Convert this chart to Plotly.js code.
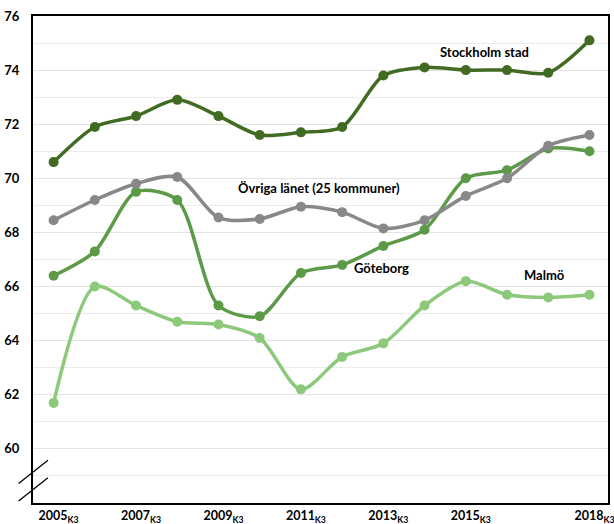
<!DOCTYPE html>
<html>
<head>
<meta charset="utf-8">
<script src="https://cdn.plot.ly/plotly-3.0.1.min.js"></script>
<style>html,body{margin:0;padding:0;background:#fff;}#chart{width:614px;height:524px;}</style>
</head>
<body>
<div id="chart"></div>
<script>
const years = ["2005","2006","2007","2008","2009","2010","2011","2012","2013","2014","2015","2016","2017","2018"];
const stockholm = [70.6, 71.9, 72.3, 72.9, 72.3, 71.6, 71.7, 71.9, 73.8, 74.1, 74.0, 74.0, 73.9, 75.1];
const ovriga    = [68.45, 69.2, 69.8, 70.05, 68.55, 68.5, 68.95, 68.75, 68.15, 68.45, 69.35, 70.0, 71.2, 71.6];
const goteborg  = [66.4, 67.3, 69.5, 69.2, 65.3, 64.9, 66.5, 66.8, 67.5, 68.1, 70.0, 70.3, 71.1, 71.0];
const malmo     = [61.7, 66.0, 65.3, 64.7, 64.6, 64.1, 62.2, 63.4, 63.9, 65.3, 66.2, 65.7, 65.6, 65.7];
const tickYears = ["2005","2007","2009","2011","2013","2015","2018"];
const yTicks = [60, 62, 64, 66, 68, 70, 72, 74, 76];
const seriesNames = ["Stockholm stad", "Övriga länet (25 kommuner)", "Göteborg", "Malmö"];

const xIdx = years.map((_, i) => i);
const tickVals = tickYears.map(y => years.indexOf(y));
const tickText = tickYears.map(y => y + "<sub>K3</sub>");

function series(vals, color, name) {
  return {
    x: xIdx, y: vals, name: name, type: "scatter", mode: "lines+markers",
    line: {color: color, width: 3.5, shape: "spline", smoothing: 0.8},
    marker: {color: color, size: 10},
    showlegend: false, hoverinfo: "skip"
  };
}

const data = [
  series(malmo, "#8cc97b", seriesNames[3]),
  series(goteborg, "#5c9a48", seriesNames[2]),
  series(ovriga, "#888888", seriesNames[1]),
  series(stockholm, "#416b22", seriesNames[0])
];

const font = {family: "Lato, 'Open Sans', sans-serif", size: 13, color: "#000"};
const annFont = {family: "Lato, 'Open Sans', sans-serif", size: 13, color: "#000"};

const layout = {
  width: 614, height: 524,
  margin: {l: 33, r: 6, t: 16, b: 21},
  paper_bgcolor: "#fff", plot_bgcolor: "#fff",
  font: font,
  xaxis: {
    range: [-0.5, 13.45],
    tickmode: "array", tickvals: tickVals, ticktext: tickText,
    showgrid: false, zeroline: false,
    showline: true, linecolor: "#000", linewidth: 2, mirror: true,
    ticks: "", ticklabelstandoff: 0, ticklabelshift: 5, ticklabeloverflow: "allow",
    tickfont: {family: font.family, size: 12.5, color: "#000", weight: "bold"}
  },
  yaxis: {
    range: [58, 76],
    tickmode: "array", tickvals: yTicks,
    showgrid: true, gridcolor: "#e3e3e3", gridwidth: 1,
    minor: {dtick: 1, tick0: 58, showgrid: true, gridcolor: "#ececec", gridwidth: 1},
    zeroline: false,
    showline: true, linecolor: "#000", linewidth: 2, mirror: true,
    ticks: "", ticklabelstandoff: 9,
    tickfont: {family: font.family, size: 13, color: "#000", weight: "bold"}
  },
  shapes: [
    {type: "line", xref: "paper", yref: "paper", x0: -0.025, y0: 0.04, x1: 0.026, y1: 0.088, line: {color: "#000", width: 1.3}},
    {type: "line", xref: "paper", yref: "paper", x0: -0.025, y0: 0.004, x1: 0.026, y1: 0.052, line: {color: "#000", width: 1.3}}
  ],
  annotations: [
    {x: 10.45, y: 74.68, text: "<b>" + seriesNames[0] + "</b>", showarrow: false, font: annFont},
    {x: 6.45, y: 69.64, text: "<b>" + seriesNames[1] + "</b>", showarrow: false, font: annFont},
    {x: 7.96, y: 66.69, text: "<b>" + seriesNames[2] + "</b>", showarrow: false, font: annFont},
    {x: 11.9, y: 66.43, text: "<b>" + seriesNames[3] + "</b>", showarrow: false, font: annFont}
  ]
};

Plotly.newPlot("chart", data, layout, {staticPlot: true, displayModeBar: false});
</script>
</body>
</html>
